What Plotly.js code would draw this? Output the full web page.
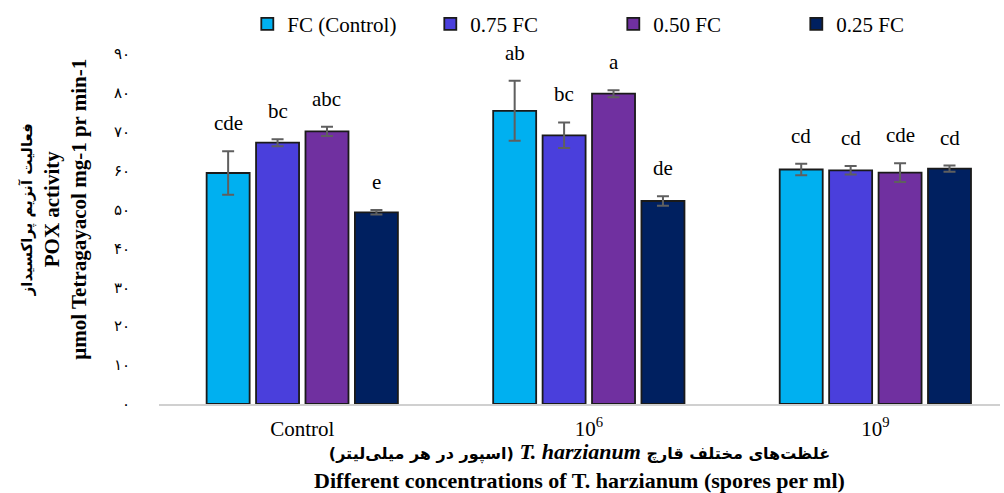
<!DOCTYPE html>
<html>
<head>
<meta charset="utf-8">
<script src="https://cdn.plot.ly/plotly-3.0.1.min.js"></script>
<style>html,body{margin:0;padding:0;background:#fff;}#chart{width:1004px;height:493px;}</style>
</head>
<body>
<div id="chart"></div>
<script>
// ---- data ----
var categories = ['Control', '10<sup>6</sup>', '10<sup>9</sup>'];
var seriesNames = ['FC (Control)', '0.75 FC', '0.50 FC', '0.25 FC'];
var fcValues   = [59.4, 75.4, 60.3];
var fc75Values = [67.2, 69.1, 60.1];
var fc50Values = [70.1, 79.8, 59.5];
var fc25Values = [49.3, 52.2, 60.5];
var fcErr   = [5.6, 7.7, 1.5];
var fc75Err = [0.9, 3.3, 1.1];
var fc50Err = [1.2, 0.9, 2.4];
var fc25Err = [0.6, 1.2, 0.8];
var fcLetters   = ['cde', 'ab', 'cd'];
var fc75Letters = ['bc', 'bc', 'cd'];
var fc50Letters = ['abc', 'a', 'cde'];
var fc25Letters = ['e', 'de', 'cd'];
var yTickVals = [0, 10, 20, 30, 40, 50, 60, 70, 80, 90];
var yTickText = ['۰', '۱۰', '۲۰', '۳۰', '۴۰', '۵۰', '۶۰', '۷۰', '۸۰', '۹۰'];
var yTitleText = '<b><span style="font-family:DejaVu Sans;font-size:15px">فعالیت آنزیم پراکسیداز</span><br>POX activity<br>µmol Tetragayacol mg-1 pr min-1</b>';
var xTitleText = '<b><span style="font-family:DejaVu Sans;font-size:16px">\u202Bغلظت\u200Cهای مختلف قارچ </span><i>T. harzianum</i><span style="font-family:DejaVu Sans;font-size:16px"> (اسپور در هر میلی\u200Cلیتر)\u202C</span></b><br><b>Different concentrations of T. harzianum (spores per ml)</b>';

var colors = ['#00B0F0', '#4A3FDC', '#7030A0', '#002060'];
var allValues = [fcValues, fc75Values, fc50Values, fc25Values];
var allErr = [fcErr, fc75Err, fc50Err, fc25Err];
var allLetters = [fcLetters, fc75Letters, fc50Letters, fc25Letters];

var serif = 'Liberation Serif, Times New Roman, serif';
var bargap = 0.31;

var traces = allValues.map(function (vals, j) {
  return {
    type: 'bar',
    name: seriesNames[j],
    x: [0, 1, 2],
    y: vals,
    marker: {color: colors[j], line: {color: '#1a1a1a', width: 1.8}},
    error_y: {type: 'data', array: allErr[j], visible: true, color: '#5f5f5f', thickness: 2, width: 6},
    hoverinfo: 'skip'
  };
});

var annotations = [];
var slot = (1 - bargap) / 4;
allValues.forEach(function (vals, j) {
  vals.forEach(function (v, i) {
    annotations.push({
      x: i + (j - 1.5) * slot,
      y: v + allErr[j][i],
      xref: 'x', yref: 'y',
      text: allLetters[j][i],
      showarrow: false,
      yanchor: 'bottom',
      yshift: 14,
      font: {family: serif, size: 21, color: '#000'}
    });
  });
});

// y-axis title (placed slightly above the plot centre as in the reference)
annotations.push({
  xref: 'paper', yref: 'paper',
  x: -0.124, y: 0.557,
  xanchor: 'center', yanchor: 'middle',
  textangle: -90,
  showarrow: false,
  text: yTitleText,
  font: {family: serif, size: 21, color: '#000'}
});

var layout = {
  width: 1004, height: 493,
  margin: {l: 159, r: 4, t: 52, b: 89},
  paper_bgcolor: '#fff', plot_bgcolor: '#fff',
  barmode: 'group', bargap: bargap, bargroupgap: 0.13,
  showlegend: true,
  legend: {
    orientation: 'h', x: 0.105, y: 1.085, xanchor: 'left', yanchor: 'middle',
    font: {family: serif, size: 21, color: '#000'},
    entrywidth: 138, entrywidthmode: 'pixels',
    traceorder: 'normal'
  },
  xaxis: {
    type: 'linear',
    range: [-0.5, 2.435],
    tickvals: [0, 1, 2], ticktext: categories,
    showgrid: false, zeroline: false,
    showline: true, linecolor: '#d0d0d0', linewidth: 1.5,
    ticks: '', ticklabelstandoff: 5,
    tickfont: {family: serif, size: 21, color: '#000'},
    title: {
      text: xTitleText,
      font: {family: serif, size: 22, color: '#000'},
      standoff: 5
    }
  },
  yaxis: {
    range: [0, 90],
    tickvals: yTickVals, ticktext: yTickText,
    showgrid: false, zeroline: false, showline: false,
    ticks: '', ticklabelstandoff: 28,
    tickfont: {family: 'DejaVu Sans, sans-serif', size: 15, color: '#000'}
  },
  annotations: annotations
};

Plotly.newPlot('chart', traces, layout, {displayModeBar: false, staticPlot: true});
</script>
</body>
</html>
